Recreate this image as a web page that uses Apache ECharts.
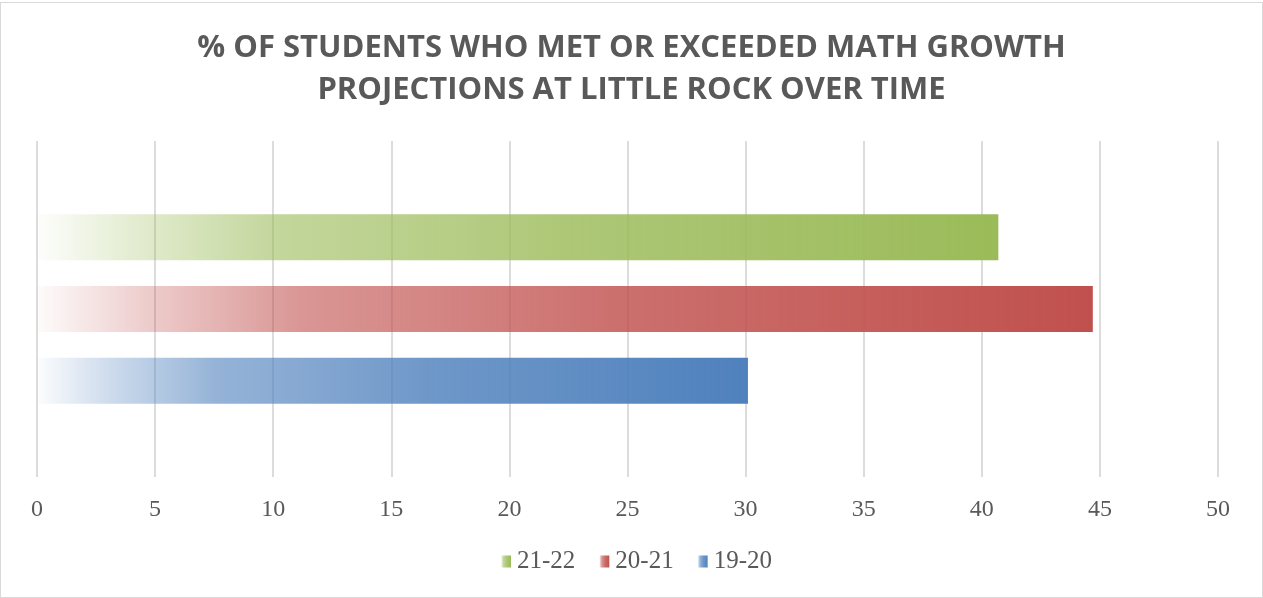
<!DOCTYPE html>
<html>
<head>
<meta charset="utf-8">
<script src="https://cdn.jsdelivr.net/npm/echarts@6/dist/echarts.min.js"></script>
<style>
html, body { margin: 0; padding: 0; background: #fff; }
#chart { width: 1261px; height: 594px; border: 1px solid #d9d9d9; margin-top: 2px; }
</style>
</head>
<body>
<div id="chart"></div>
<script>
var titleText = '% OF STUDENTS WHO MET OR EXCEEDED MATH GROWTH\nPROJECTIONS AT LITTLE ROCK OVER TIME';
var categories = [''];
// series in drawing order (top to bottom)
var seriesNames = ['21-22', '20-21', '19-20'];
var seriesValues = [[40.7], [44.7], [30.1]];
var seriesColors = ['155,187,89', '192,80,77', '79,129,189'];
var legendOrder = ['21-22', '20-21', '19-20'];
var xTicks = [0, 5, 10, 15, 20, 25, 30, 35, 40, 45, 50];

function fade(rgb) {
	return new echarts.graphic.LinearGradient(0, 0, 1, 0, [
		{ offset: 0, color: 'rgba(' + rgb + ',0.02)' },
		{ offset: 0.1, color: 'rgba(' + rgb + ',0.28)' },
		{ offset: 0.25, color: 'rgba(' + rgb + ',0.6)' },
		{ offset: 0.55, color: 'rgba(' + rgb + ',0.82)' },
		{ offset: 1, color: 'rgba(' + rgb + ',1)' }
	]);
}

var chart = echarts.init(document.getElementById('chart'));
var series = [];
for (var i = 0; i < seriesNames.length; i++) {
	series.push({
		name: seriesNames[i],
		type: 'bar',
		data: seriesValues[i],
		barWidth: 46,
		barGap: '56%',
		itemStyle: { color: fade(seriesColors[i]) }
	});
}

var option = {
	animation: false,
	title: {
		text: titleText,
		left: 'center',
		top: 19,
		textStyle: {
			fontFamily: 'Open Sans',
			fontWeight: 'bold',
			fontSize: 31,
			lineHeight: 42,
			color: '#595959'
		}
	},
	legend: {
		data: legendOrder,
		bottom: 18,
		left: 495,
		icon: 'rect',
		itemWidth: 10,
		itemHeight: 12,
		itemGap: 24,
		textStyle: { fontFamily: 'Liberation Serif', fontSize: 25, color: '#595959', padding: [0, 0, 0, 1] }
	},
	grid: { left: 36, right: 44, top: 138, bottom: 120, containLabel: false },
	xAxis: {
		type: 'value',
		min: xTicks[0],
		max: xTicks[xTicks.length - 1],
		interval: 5,
		axisLine: { show: false },
		axisTick: { show: false },
		splitLine: { lineStyle: { color: '#d0d0d0', width: 1.5 } },
		axisLabel: { margin: 21, fontFamily: 'Liberation Serif', fontSize: 24, color: '#595959' }
	},
	yAxis: {
		type: 'category',
		data: categories,
		axisLine: { show: false },
		axisTick: { show: false },
		axisLabel: { show: false }
	},
	series: series
};
chart.setOption(option);
</script>
</body>
</html>
